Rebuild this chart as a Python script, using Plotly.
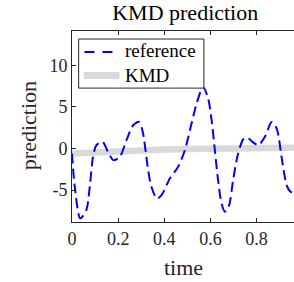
import plotly.graph_objects as go

# reference signal
ref_t = [0, 0.012, 0.036, 0.062, 0.077, 0.091, 0.106, 0.132, 0.156, 0.18, 0.207, 0.236,
         0.265, 0.29, 0.305, 0.33, 0.344, 0.368, 0.388, 0.424, 0.46, 0.489, 0.518, 0.54,
         0.568, 0.59, 0.605, 0.619, 0.633, 0.648, 0.663, 0.681, 0.698, 0.72, 0.745, 0.765,
         0.782, 0.807, 0.836, 0.865, 0.887, 0.908, 0.93, 0.947, 0.962]
ref_y = [-0.6, -4.6, -8.4, -7.4, -4.6, -1.0, 0.4, 0.8, -0.4, -1.4, -1.0, 1.0,
         2.8, 3.2, 2.2, -2.6, -4.6, -6.0, -5.6, -3.6, -2.2, -0.2, 3.0, 5.4,
         7.4, 6.0, 3.4, -0.2, -3.8, -6.6, -7.6, -6.8, -3.8, -0.6, 1.2, 1.2,
         0.8, 0.4, 1.4, 3.2, 2.4, -1.0, -4.4, -5.2, -5.3]

# KMD prediction
kmd_t = [0, 0.1, 0.2, 0.3, 0.4, 0.5, 0.6, 0.7, 0.8, 0.9, 0.962]
kmd_y = [-0.6, -0.45, -0.32, -0.22, -0.13, -0.06, 0.0, 0.04, 0.07, 0.09, 0.1]

xticks = [0, 0.2, 0.4, 0.6, 0.8]
xticklabels = ["0", "0.2", "0.4", "0.6", "0.8"]
yticks = [-5, 0, 5, 10]
yticklabels = ["-5", "0", "5", "10"]

series_names = ["reference", "KMD"]
BLUE = "#0000ff"
GREY = "#d9d9d9"

F = "Times New Roman"
AX = "#262626"

fig = go.Figure()
fig.add_trace(go.Scatter(x=kmd_t, y=kmd_y, mode="lines", name=series_names[1],
                         line=dict(color=GREY, width=6.5)))
fig.add_trace(go.Scatter(x=ref_t, y=ref_y, mode="lines", name=series_names[0],
                         line=dict(color=BLUE, width=2, dash="10px,5px", shape="spline", smoothing=0.8)))

# legend (drawn manually to match box size)
shapes = [
    dict(type="rect", xref="paper", yref="paper", x0=0.030, x1=0.594, y0=0.701, y1=0.958,
         fillcolor="white", line=dict(color=AX, width=1), layer="above"),
    dict(type="line", xref="paper", yref="paper", x0=0.056, x1=0.214, y0=0.890, y1=0.890,
         line=dict(color=BLUE, width=2, dash="10px,8px"), layer="above"),
    dict(type="line", xref="paper", yref="paper", x0=0.053, x1=0.214, y0=0.767, y1=0.767,
         line=dict(color=GREY, width=7), layer="above"),
]

annotations = [
    dict(text=series_names[0], xref="paper", yref="paper", x=0.228, y=0.897, xanchor="left",
         yanchor="middle", showarrow=False, font=dict(family=F, size=19, color="#000000")),
    dict(text=series_names[1], xref="paper", yref="paper", x=0.228, y=0.767, xanchor="left",
         yanchor="middle", showarrow=False, font=dict(family=F, size=19, color="#000000")),
    dict(text="time", xref="paper", yref="paper", x=0.5, y=-0.239, xanchor="center",
         yanchor="middle", showarrow=False, font=dict(family=F, size=22, color="#262626")),
    dict(text="prediction", xref="paper", yref="paper", x=-0.198, y=0.502, xanchor="center",
         yanchor="middle", textangle=-90, showarrow=False,
         font=dict(family=F, size=22, color="#262626")),
]

fig.update_layout(
    width=294, height=282,
    margin=dict(l=72, r=0, t=31, b=60, autoexpand=False),
    paper_bgcolor="white", plot_bgcolor="white",
    font=dict(family=F, size=18, color=AX),
    title=dict(text="KMD prediction", x=0.63, xanchor="center", y=0.956, yanchor="middle",
               font=dict(family=F, size=22, color="#000000")),
    showlegend=False,
    xaxis=dict(range=[0, 0.962], tickvals=xticks, ticktext=xticklabels,
               showline=True, linecolor=AX, linewidth=1, mirror="ticks",
               ticks="inside", ticklen=4, tickcolor=AX, showgrid=False, zeroline=False,
               automargin=False, tickfont=dict(family=F, size=18, color=AX)),
    yaxis=dict(range=[-8.84, 14.13], tickvals=yticks, ticktext=yticklabels,
               showline=True, linecolor=AX, linewidth=1, mirror=False,
               ticks="inside", ticklen=4, tickcolor=AX, showgrid=False, zeroline=False,
               automargin=False, tickfont=dict(family=F, size=18, color=AX)),
    shapes=shapes,
    annotations=annotations,
)

fig.write_html("out.html", config={"displayModeBar": False},
               post_script="document.body.style.margin='0';document.body.style.padding='0';")
